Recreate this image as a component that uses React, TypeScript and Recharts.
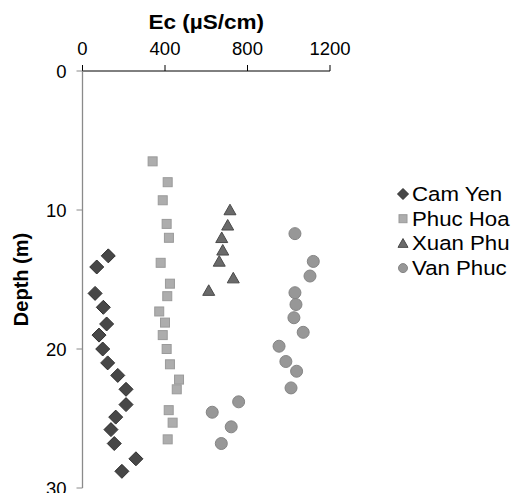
import React from 'react';
import { ScatterChart, Scatter, XAxis, YAxis, Legend, Label } from 'recharts';

const FONT = '"Liberation Sans", Arial, sans-serif';

const ecTicks = [0, 400, 800, 1200];
const depthTicks = [0, 10, 20, 30];

const seriesNames = ['Cam Yen', 'Phuc Hoa', 'Xuan Phu', 'Van Phuc'];

const camYenEc = [125, 69, 61, 101, 117, 80, 98, 122, 171, 211, 211, 161, 138, 154, 259, 191];
const camYenDepth = [13.3, 14.1, 16.0, 17.0, 18.2, 19.0, 20.0, 21.0, 21.9, 22.9, 24.0, 24.9, 25.8, 26.8, 27.9, 28.8];

const phucHoaEc = [340, 413, 389, 408, 419, 379, 424, 411, 372, 400, 389, 408, 424, 468, 457, 418, 437, 413];
const phucHoaDepth = [6.5, 8.0, 9.3, 11.0, 12.0, 13.8, 15.3, 16.2, 17.3, 18.1, 19.0, 20.0, 21.1, 22.2, 22.9, 24.4, 25.3, 26.5];

const xuanPhuEc = [715, 704, 675, 680, 663, 731, 612];
const xuanPhuDepth = [10.0, 11.1, 12.0, 12.9, 13.7, 14.9, 15.8];

const vanPhucEc = [1030, 1119, 1103, 1030, 1035, 1025, 1070, 953, 986, 1038, 1011, 757, 629, 721, 673];
const vanPhucDepth = [11.7, 13.7, 14.75, 15.95, 16.8, 17.75, 18.8, 19.8, 20.9, 21.6, 22.8, 23.8, 24.55, 25.6, 26.8];

const zip = (xs: number[], ys: number[]) => xs.map((ec, i) => ({ ec, depth: ys[i] }));

const camYenData = zip(camYenEc, camYenDepth);
const phucHoaData = zip(phucHoaEc, phucHoaDepth);
const xuanPhuData = zip(xuanPhuEc, xuanPhuDepth);
const vanPhucData = zip(vanPhucEc, vanPhucDepth);

const COLORS = {
  diamond: { fill: '#474747', stroke: '#2e2e2e' },
  square: { fill: '#adadad', stroke: '#9a9a9a' },
  triangle: { fill: '#6a6a6a', stroke: '#4a4a4a' },
  circle: { fill: '#979797', stroke: '#858585' },
};

type Kind = 'diamond' | 'square' | 'triangle' | 'circle';

const marker = (kind: Kind, cx: number, cy: number, s: number) => {
  const c = COLORS[kind];
  if (kind === 'diamond') {
    return <path d={`M${cx},${cy - s}L${cx + s},${cy}L${cx},${cy + s}L${cx - s},${cy}Z`} fill={c.fill} stroke={c.stroke} strokeWidth={1} />;
  }
  if (kind === 'square') {
    return <rect x={cx - s / 2} y={cy - s / 2} width={s} height={s} fill={c.fill} stroke={c.stroke} strokeWidth={1} />;
  }
  if (kind === 'triangle') {
    const h = s * 0.88;
    return <path d={`M${cx},${cy - h * 0.55}L${cx + s / 2},${cy + h * 0.45}L${cx - s / 2},${cy + h * 0.45}Z`} fill={c.fill} stroke={c.stroke} strokeWidth={1} />;
  }
  return <circle cx={cx} cy={cy} r={s} fill={c.fill} stroke={c.stroke} strokeWidth={1} />;
};

const shapeFor = (kind: Kind, s: number) => (props: any) => {
  const { cx, cy } = props;
  if (cx == null || cy == null) return <g />;
  return marker(kind, cx, cy, s);
};

const kinds: Kind[] = ['diamond', 'square', 'triangle', 'circle'];
const legendSizes = [5.5, 8, 10, 4.5];

const renderLegend = () => (
  <svg width={130} height={110} style={{ display: 'block' }}>
    {seriesNames.map((name, i) => {
      const base = 21 + i * 24.7;
      return (
        <g key={name}>
          {marker(kinds[i], 18, base - 7, legendSizes[i])}
          <text transform={`translate(27,${base}) scale(1.14,1)`} fontFamily={FONT} fontSize={19.5} fill="#000">
            {name}
          </text>
        </g>
      );
    })}
  </svg>
);

const XTitle = (props: any) => {
  const vb = props.viewBox || { x: 82.5, y: 0, width: 247.5 };
  const cx = vb.x + vb.width / 2;
  return (
    <text
      transform={`translate(${cx},29) scale(1.1,1)`}
      textAnchor="middle"
      fontFamily={FONT}
      fontSize={20.5}
      fontWeight="bold"
      fill="#000"
    >
      Ec (µS/cm)
    </text>
  );
};

export default function App() {
  return (
    <div style={{ position: 'absolute', left: 0, top: 0, width: 515, height: 493, background: '#fff' }}>
      <ScatterChart width={515} height={493} margin={{ top: 0, right: 185, bottom: 5, left: 0 }}>
        <XAxis
          dataKey="ec"
          type="number"
          orientation="top"
          height={71}
          domain={[0, 1200]}
          ticks={ecTicks}
          interval={0}
          axisLine={{ stroke: '#000', strokeWidth: 1 }}
          tickLine={{ stroke: '#000' }}
          tickSize={6}
          tickMargin={10}
          tick={{ fill: '#000', fontSize: 18.5, fontFamily: FONT }}
        >
          <Label content={<XTitle />} />
        </XAxis>
        <YAxis
          dataKey="depth"
          type="number"
          reversed
          width={82.5}
          domain={[0, 30]}
          ticks={depthTicks}
          interval={0}
          axisLine={{ stroke: '#8a8a8a', strokeWidth: 1.3 }}
          tickLine={{ stroke: '#8a8a8a' }}
          tickSize={6}
          tickMargin={10}
          tick={{ fill: '#000', fontSize: 18.5, fontFamily: FONT }}
          label={{
            value: 'Depth (m)',
            angle: -90,
            position: 'insideLeft',
            offset: 21,
            style: { fontFamily: FONT, fontSize: 20, fontWeight: 'bold', fill: '#000', textAnchor: 'middle' },
          }}
        />
        <Legend
          layout="horizontal"
          verticalAlign="middle"
          align="center"
          content={renderLegend}
          wrapperStyle={{ left: 385, top: 180, width: 130, height: 110 }}
        />
        <Scatter name="Cam Yen" data={camYenData} shape={shapeFor('diamond', 7)} isAnimationActive={false} />
        <Scatter name="Phuc Hoa" data={phucHoaData} shape={shapeFor('square', 9)} isAnimationActive={false} />
        <Scatter name="Xuan Phu" data={xuanPhuData} shape={shapeFor('triangle', 12)} isAnimationActive={false} />
        <Scatter name="Van Phuc" data={vanPhucData} shape={shapeFor('circle', 6)} isAnimationActive={false} />
      </ScatterChart>
    </div>
  );
}
